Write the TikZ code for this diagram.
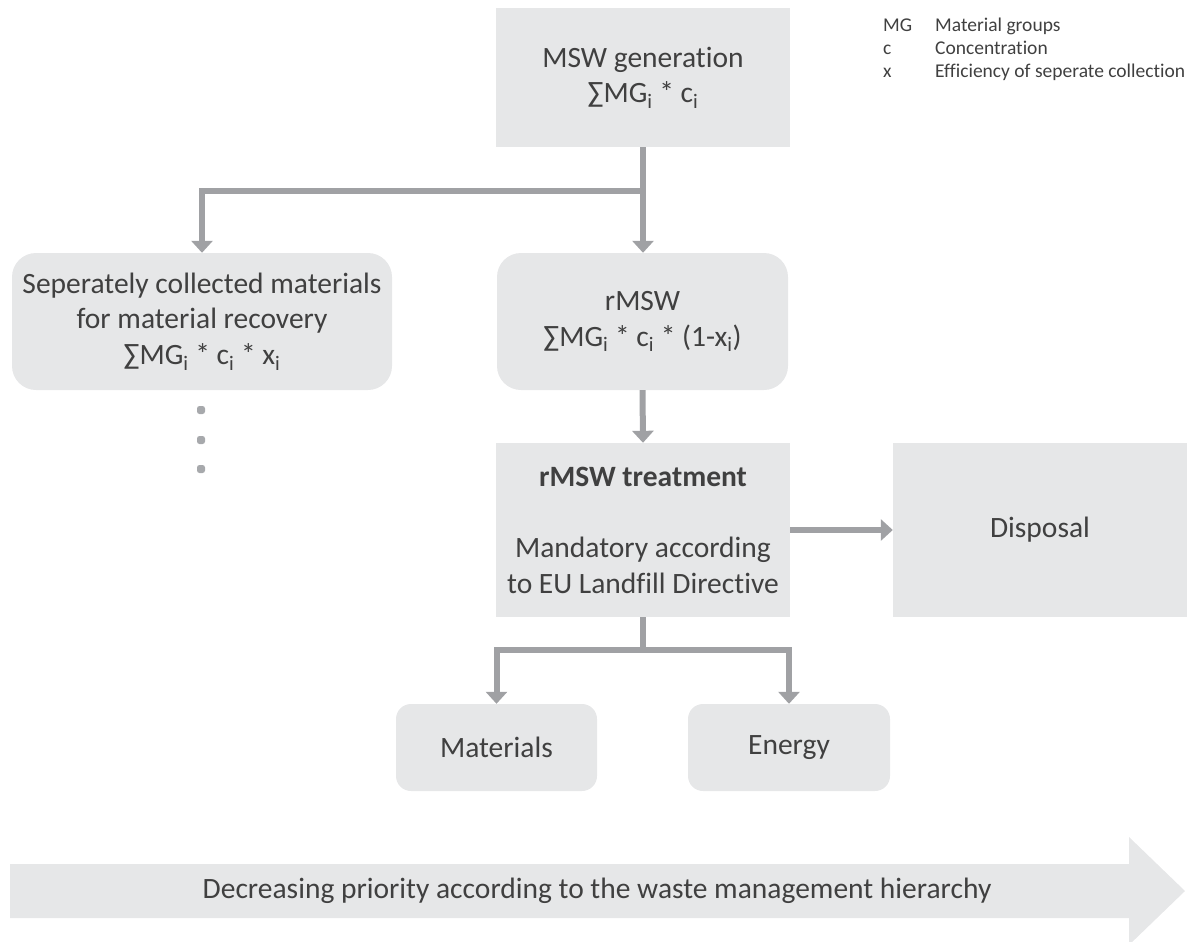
\documentclass[tikz,border=0pt]{standalone}
\usepackage{fontspec}
\setmainfont{Carlito}[Ligatures=NoCommon]
\usetikzlibrary{arrows.meta}
\definecolor{boxgray}{HTML}{E6E7E8}
\definecolor{linegray}{HTML}{A0A1A4}
\definecolor{textgray}{HTML}{404040}
\definecolor{dotgray}{HTML}{A7A9AC}
\newcommand{\sbi}[1]{#1\textsubscript{i}}

\begin{document}
\begin{tikzpicture}[x=1pt,y=-1pt,
  box/.style={fill=boxgray, draw=none, text=textgray, align=center, inner sep=0pt,
    font=\fontsize{29.5}{35.5}\selectfont},
  roundbox/.style={box, rounded corners=24pt},
  smallbox/.style={box, rounded corners=15pt},
  link/.style={draw=linegray, line width=6pt, line join=miter},
  conn/.style={link, -{Triangle[width=21pt,length=12pt]}},
  dotmark/.style={fill=dotgray, minimum size=8pt, inner sep=0pt, rounded corners=2.5pt},
  legend/.style={text=textgray, inner sep=0pt, font=\fontsize{19.5}{22}\selectfont},
]
\useasboundingbox (0,0) rectangle (1189,942);

% process boxes
\node[box, minimum width=294pt, minimum height=139pt] (msw) at (643,77.5)
  {MSW generation\\∑\sbi{MG} * \sbi{c}};
\node[roundbox, minimum width=380pt, minimum height=137pt] (sep) at (202,321.5)
  {Seperately collected materials\\for material recovery\\∑\sbi{MG} * \sbi{c} * \sbi{x}};
\node[roundbox, minimum width=291pt, minimum height=137pt] (rmsw) at (642.5,321.5)
  {rMSW\\∑\sbi{MG} * \sbi{c} * (1-\sbi{x})};
\node[box, minimum width=294pt, minimum height=174pt] (treat) at (643,530)
  {\textbf{rMSW treatment}\\[36pt]Mandatory according\\to EU Landfill Directive};
\node[box, minimum width=294pt, minimum height=174pt] (disp) at (1040,530) {Disposal};
\node[smallbox, minimum width=201pt, minimum height=87pt] (mat) at (496.5,747.5) {Materials};
\node[smallbox, minimum width=202pt, minimum height=87pt] (energy) at (789,747.5) {Energy};

% continuation dots below the separate collection
\node[dotmark] (d1) at (201,410) {};
\node[dotmark] (d2) at (201,440) {};
\node[dotmark] (d3) at (201,469) {};

% connectors
\coordinate (j1) at (643,191);
\coordinate (j2) at (643,650);
\draw[conn] (msw.south) -- (msw.south |- rmsw.north);
\draw[conn] (j1) -| (sep.north);
\draw[conn] (rmsw.south) -- (treat.north);
\draw[conn] (treat.east) -- (disp.west);
\draw[link] (treat.south) -- (j2);
\draw[conn] (j2) -| (mat.north);
\draw[conn] (j2) -| (energy.north);

% legend
\node[legend, anchor=base west] (lk1) at (883,31.5) {MG};
\node[legend, anchor=base west] (lv1) at (935,31.5) {Material groups};
\node[legend, anchor=base west] (lk2) at (883,54.5) {c};
\node[legend, anchor=base west] (lv2) at (935,54.5) {Concentration};
\node[legend, anchor=base west] (lk3) at (883,77.5) {x};
\node[legend, anchor=base west] (lv3) at (935,77.5) {Efficiency of seperate collection};

% priority arrow
\fill[boxgray] (10,864) -- (1129,864) -- (1129,837) -- (1185,891) -- (1129,945)
  -- (1129,918) -- (10,918) -- cycle;
\node[text=textgray, inner sep=0pt, font=\fontsize{29.5}{35}\selectfont] (prio) at (597,891)
  {Decreasing priority according to the waste management hierarchy};
\end{tikzpicture}
\end{document}
